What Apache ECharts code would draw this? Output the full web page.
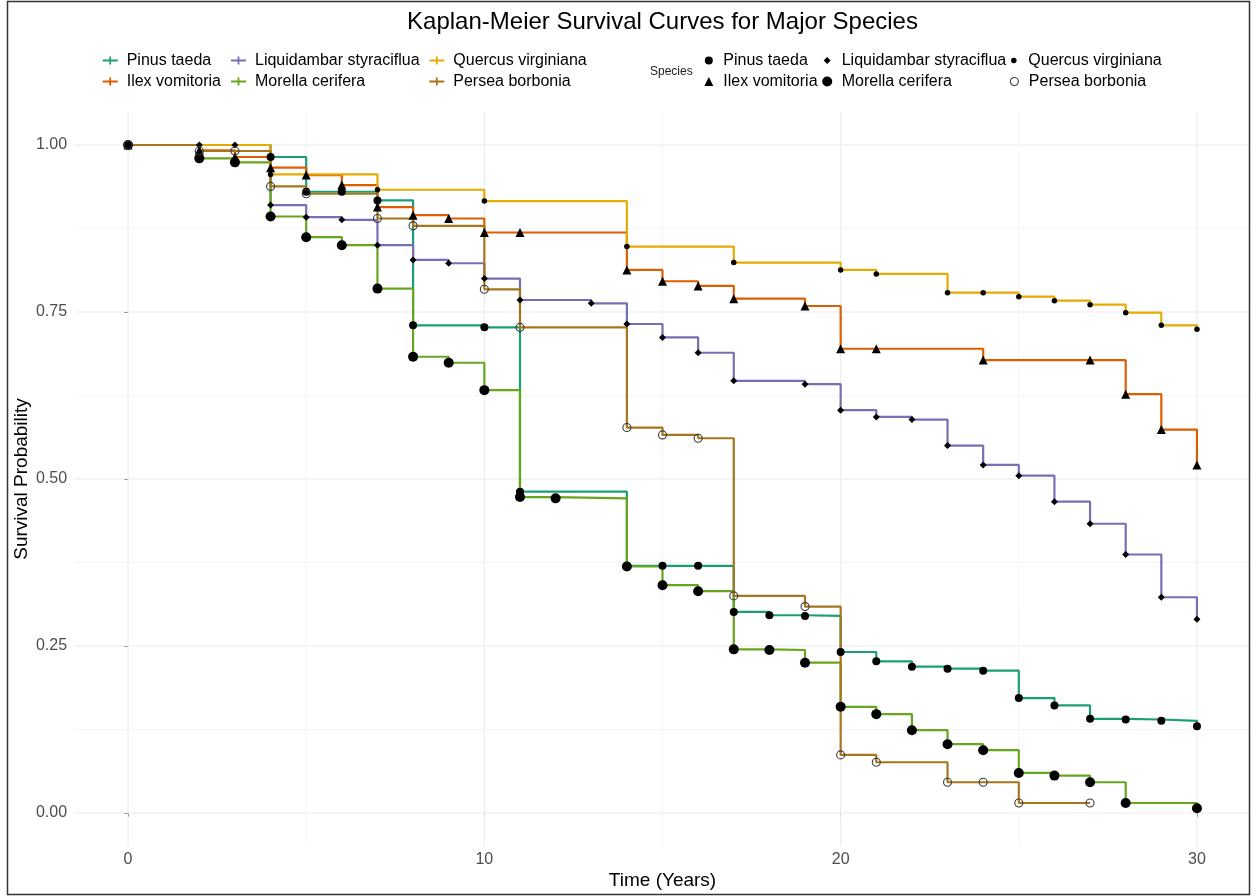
<!DOCTYPE html>
<html>
<head>
<meta charset="utf-8">
<script src="https://cdn.jsdelivr.net/npm/echarts@6/dist/echarts.min.js"></script>
<style>
  html, body { margin: 0; padding: 0; background: #ffffff; }
  #chart { width: 1257px; height: 896px; }
</style>
</head>
<body>
<div id="chart"></div>
<script>
// Kaplan-Meier survival estimates by species (time in years, survival probability)
const speciesNames = ['Pinus taeda', 'Ilex vomitoria', 'Liquidambar styraciflua',
                      'Morella cerifera', 'Quercus virginiana', 'Persea borbonia'];

const pinusTime = [0, 4, 5, 6, 7, 8, 10, 11, 14, 15, 16, 17, 18, 19, 20, 21, 22, 23, 24, 25, 26, 27, 28, 29, 30];
const pinusSurv = [1.0, 0.982, 0.930, 0.930, 0.917, 0.730, 0.727, 0.481, 0.370, 0.370, 0.370, 0.301, 0.296, 0.295,
                   0.241, 0.227, 0.219, 0.216, 0.213, 0.172, 0.161, 0.141, 0.140, 0.138, 0.130];

const ilexTime = [0, 2, 3, 4, 5, 6, 7, 8, 9, 10, 11, 14, 15, 16, 17, 19, 20, 21, 24, 27, 28, 29, 30];
const ilexSurv = [1.0, 0.992, 0.982, 0.966, 0.955, 0.940, 0.907, 0.895, 0.890, 0.869, 0.869, 0.813, 0.796, 0.789,
                  0.770, 0.759, 0.695, 0.695, 0.678, 0.678, 0.627, 0.574, 0.521];

const liquidambarTime = [0, 2, 3, 4, 5, 6, 7, 8, 9, 10, 11, 13, 14, 15, 16, 17, 19, 20, 21, 22, 23, 24, 25, 26, 27, 28, 29, 30];
const liquidambarSurv = [1.0, 1.0, 1.0, 0.910, 0.892, 0.888, 0.850, 0.828, 0.823, 0.800, 0.768, 0.763, 0.732, 0.712,
                         0.689, 0.647, 0.642, 0.603, 0.593, 0.589, 0.550, 0.521, 0.505, 0.466, 0.433, 0.387, 0.323, 0.290];

const morellaTime = [0, 2, 3, 4, 5, 6, 7, 8, 9, 10, 11, 12, 14, 15, 16, 17, 18, 19, 20, 21, 22, 23, 24, 25, 26, 27, 28, 30];
const morellaSurv = [1.0, 0.980, 0.974, 0.893, 0.862, 0.850, 0.785, 0.683, 0.674, 0.633, 0.473, 0.471, 0.369, 0.341,
                     0.332, 0.245, 0.244, 0.225, 0.159, 0.148, 0.124, 0.103, 0.094, 0.060, 0.056, 0.046, 0.015, 0.007];

const quercusTime = [0, 4, 7, 10, 14, 17, 20, 21, 23, 24, 25, 26, 27, 28, 29, 30];
const quercusSurv = [1.0, 0.956, 0.933, 0.916, 0.848, 0.824, 0.813, 0.807, 0.779, 0.779, 0.773, 0.767, 0.761, 0.749,
                     0.730, 0.724];

const perseaTime = [0, 2, 3, 4, 5, 7, 8, 10, 11, 14, 15, 16, 17, 19, 20, 21, 23, 24, 25, 27];
const perseaSurv = [1.0, 0.991, 0.991, 0.938, 0.927, 0.890, 0.879, 0.784, 0.727, 0.577, 0.566, 0.561, 0.325, 0.309,
                    0.087, 0.076, 0.046, 0.046, 0.015, 0.015];

const xTicks = [0, 10, 20, 30];
const xMinorTicks = [5, 15, 25];
const yTicks = [0, 0.25, 0.5, 0.75, 1.0];
const yMinorTicks = [0.125, 0.375, 0.625, 0.875];

const titleText = 'Kaplan-Meier Survival Curves for Major Species';
const xTitle = 'Time (Years)';
const yTitle = 'Survival Probability';
const shapeLegendTitle = 'Species';

// ---- styling ----
const lineColors = ['#1B9E77', '#D95F02', '#7570B3', '#66A61E', '#E6AB02', '#A6761D'];
const markerShapes = ['circle', 'triangle', 'diamond', 'circle', 'circle', 'circle'];
const markerSizes = [8, 9, 7, 10, 5.5, 8];
const hollowMarker = [false, false, false, false, false, true];

const seriesTimes = [pinusTime, ilexTime, liquidambarTime, morellaTime, quercusTime, perseaTime];
const seriesSurv = [pinusSurv, ilexSurv, liquidambarSurv, morellaSurv, quercusSurv, perseaSurv];

// axis ranges padded by 5% on each side
const X_MIN = -1.5, X_MAX = 31.5, Y_MIN = -0.05, Y_MAX = 1.05;
const FONT = '"Liberation Sans", Arial, Helvetica, sans-serif';

function pairs(ts, ss) { return ts.map((t, i) => [t, ss[i]]); }

function markerStyle(i) {
  if (hollowMarker[i]) {
    return { color: 'rgba(0,0,0,0)', borderColor: '#3a3a3a', borderWidth: 1.1, opacity: 1 };
  }
  return { color: '#000000', borderWidth: 0, opacity: 1 };
}

const series = [];

// panel grid lines
xTicks.concat(xMinorTicks).forEach(v => {
  const major = xTicks.indexOf(v) >= 0;
  series.push({
    type: 'line', silent: true, animation: false, symbol: 'none', z: 1,
    data: [[v, Y_MIN], [v, Y_MAX]],
    lineStyle: { color: major ? '#EBEBEB' : '#F2F2F2', width: major ? 1.1 : 0.8 }
  });
});
yTicks.concat(yMinorTicks).forEach(v => {
  const major = yTicks.indexOf(v) >= 0;
  series.push({
    type: 'line', silent: true, animation: false, symbol: 'none', z: 1,
    data: [[X_MIN, v], [X_MAX, v]],
    lineStyle: { color: major ? '#EBEBEB' : '#F2F2F2', width: major ? 1.1 : 0.8 }
  });
});

// survival step curves
speciesNames.forEach((name, i) => {
  series.push({
    name: name, type: 'line', step: 'end', animation: false,
    showSymbol: false, symbol: 'none', z: 2,
    data: pairs(seriesTimes[i], seriesSurv[i]),
    lineStyle: { color: lineColors[i], width: 2.2 },
    itemStyle: { color: lineColors[i] }
  });
});

// species markers at each estimate
speciesNames.forEach((name, i) => {
  series.push({
    name: name, type: 'scatter', animation: false, z: 3,
    symbol: markerShapes[i], symbolSize: markerSizes[i],
    data: pairs(seriesTimes[i], seriesSurv[i]),
    itemStyle: markerStyle(i)
  });
});

// legends: one component per entry, laid out in two rows of three columns
const plusIcon = 'path://M0,3H15V5H0Z M6.6,0H8.4V8H6.6Z';
const rowCenters = [60.5, 81.5];
const lineLegendTextX = [126.7, 255, 453.3];
const shapeLegendTextX = [723.3, 841.7, 1028.3];

const legends = [];
speciesNames.forEach((name, i) => {
  const col = Math.floor(i / 2), row = i % 2;
  // colour key (line with cross)
  const w = 15, h = 8, gapL = 9;
  legends.push({
    selectedMode: false, orient: 'horizontal', padding: 0,
    left: lineLegendTextX[col] - gapL - w, top: rowCenters[row] - 9,
    itemWidth: w, itemHeight: h,
    textStyle: { fontSize: 16, color: '#000000', fontFamily: FONT, lineHeight: 18, padding: [0, 0, 0, gapL - 5] },
    data: [{ name: name, icon: plusIcon, itemStyle: { color: lineColors[i], borderWidth: 0, opacity: 1 } }]
  });
  // shape key
  const s = markerSizes[i];
  const iconCenter = shapeLegendTextX[col] - 14.5;
  legends.push({
    selectedMode: false, orient: 'horizontal', padding: 0,
    left: iconCenter - s / 2, top: rowCenters[row] - 9,
    itemWidth: s, itemHeight: s,
    textStyle: { fontSize: 16, color: '#000000', fontFamily: FONT, lineHeight: 18,
                 padding: [0, 0, 0, shapeLegendTextX[col] - (iconCenter + s / 2) - 5] },
    data: [{ name: name, icon: markerShapes[i], itemStyle: markerStyle(i) }]
  });
});

const chart = echarts.init(document.getElementById('chart'), null, { renderer: 'canvas' });
chart.setOption({
  backgroundColor: '#ffffff',
  animation: false,
  textStyle: { fontFamily: FONT },
  grid: { left: 74.6, right: 6.6, top: 111.6, bottom: 49.6, outerBoundsMode: 'none', containLabel: false },
  xAxis: {
    type: 'value', min: X_MIN, max: X_MAX,
    axisLine: { show: false },
    splitLine: { show: false },
    axisTick: { show: true, customValues: xTicks, length: 3.7, lineStyle: { color: '#333333', width: 1 } },
    axisLabel: {
      customValues: xTicks, color: '#4D4D4D', fontSize: 16, margin: 5, fontFamily: FONT,
      formatter: v => (xTicks.indexOf(v) >= 0 ? String(v) : '')
    }
  },
  yAxis: {
    type: 'value', min: Y_MIN, max: Y_MAX,
    axisLine: { show: false },
    splitLine: { show: false },
    axisTick: { show: true, customValues: yTicks, length: 3.7, lineStyle: { color: '#333333', width: 1 } },
    axisLabel: {
      customValues: yTicks, color: '#4D4D4D', fontSize: 16, margin: 7.5, fontFamily: FONT,
      formatter: v => (yTicks.indexOf(v) >= 0 ? v.toFixed(2) : '')
    }
  },
  legend: legends,
  series: series,
  graphic: [
    { type: 'text', x: 662.5, y: 22, silent: true,
      style: { text: titleText, fontSize: 24, fontFamily: FONT, fill: '#000', textAlign: 'center', textVerticalAlign: 'middle' } },
    { type: 'text', x: 662.5, y: 881, silent: true,
      style: { text: xTitle, fontSize: 19, fontFamily: FONT, fill: '#000', textAlign: 'center', textVerticalAlign: 'middle' } },
    { type: 'text', x: 22, y: 479, rotation: Math.PI / 2, silent: true,
      style: { text: yTitle, fontSize: 19, fontFamily: FONT, fill: '#000', textAlign: 'center', textVerticalAlign: 'middle' } },
    { type: 'text', x: 650, y: 71.5, silent: true,
      style: { text: shapeLegendTitle, fontSize: 12, fontFamily: FONT, fill: '#1a1a1a', textAlign: 'left', textVerticalAlign: 'middle' } },
    { type: 'rect', silent: true, z: 100,
      shape: { x: 7.5, y: 1.5, width: 1242, height: 893 },
      style: { fill: 'none', stroke: '#333333', lineWidth: 1.5 } }
  ]
});
</script>
</body>
</html>
